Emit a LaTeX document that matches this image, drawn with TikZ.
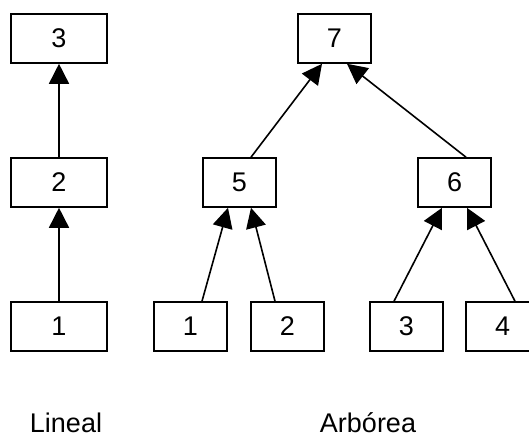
\documentclass[tikz,border=0pt]{standalone}
\usepackage{fontspec}
\setmainfont{Liberation Sans}
\usepackage{tikz}
\usetikzlibrary{arrows.meta}

\begin{document}
\begin{tikzpicture}[
  x=0.5pt, y=-0.5pt,
  box/.style={draw, line width=0.8pt, minimum width=36.5pt, minimum height=24.5pt, inner sep=0pt, font=\fontsize{13.5}{16}\selectfont},
  widebox/.style={box, minimum width=48pt},
  line/.style={-{Triangle[length=10pt,width=10pt]}, line width=0.8pt},
  lbl/.style={anchor=base, font=\fontsize{13.5}{16}\selectfont}
]
\clip (0,0) rectangle (529,433);
% lineal
\node[widebox] (lin3) at (59,38.5) {3};
\node[widebox] (lin2) at (59,182.5) {2};
\node[widebox] (lin1) at (59,326.5) {1};
\draw[line] (lin2) -- (lin3);
\draw[line] (lin1) -- (lin2);
% arborea
\node[box] (root) at (334.5,38.5) {7};
\node[box] (mid5) at (239.5,182.5) {5};
\node[box] (mid6) at (454.5,182.5) {6};
\node[box] (leaf1) at (190.5,326.5) {1};
\node[box] (leaf2) at (287.5,326.5) {2};
\node[box] (leaf3) at (406.5,326.5) {3};
\node[box] (leaf4) at (502.5,326.5) {4};
\draw[line] ([xshift=5.75pt]leaf1.north) -- ([xshift=-5.75pt]mid5.south);
\draw[line] ([xshift=-6.25pt]leaf2.north) -- ([xshift=5.75pt]mid5.south);
\draw[line] ([xshift=-6.25pt]leaf3.north) -- ([xshift=-6.25pt]mid6.south);
\draw[line] ([xshift=6.25pt]leaf4.north) -- ([xshift=6.25pt]mid6.south);
\draw[line] ([xshift=5.75pt]mid5.north) -- ([xshift=-6.25pt]root.south);
\draw[line] ([xshift=5.75pt]mid6.north) -- ([xshift=6.25pt]root.south);
% etiquetas
\node[lbl] (lineal) at (66,432) {Lineal};
\node[lbl] (arborea) at (368,432) {Arbórea};
\end{tikzpicture}
\end{document}
